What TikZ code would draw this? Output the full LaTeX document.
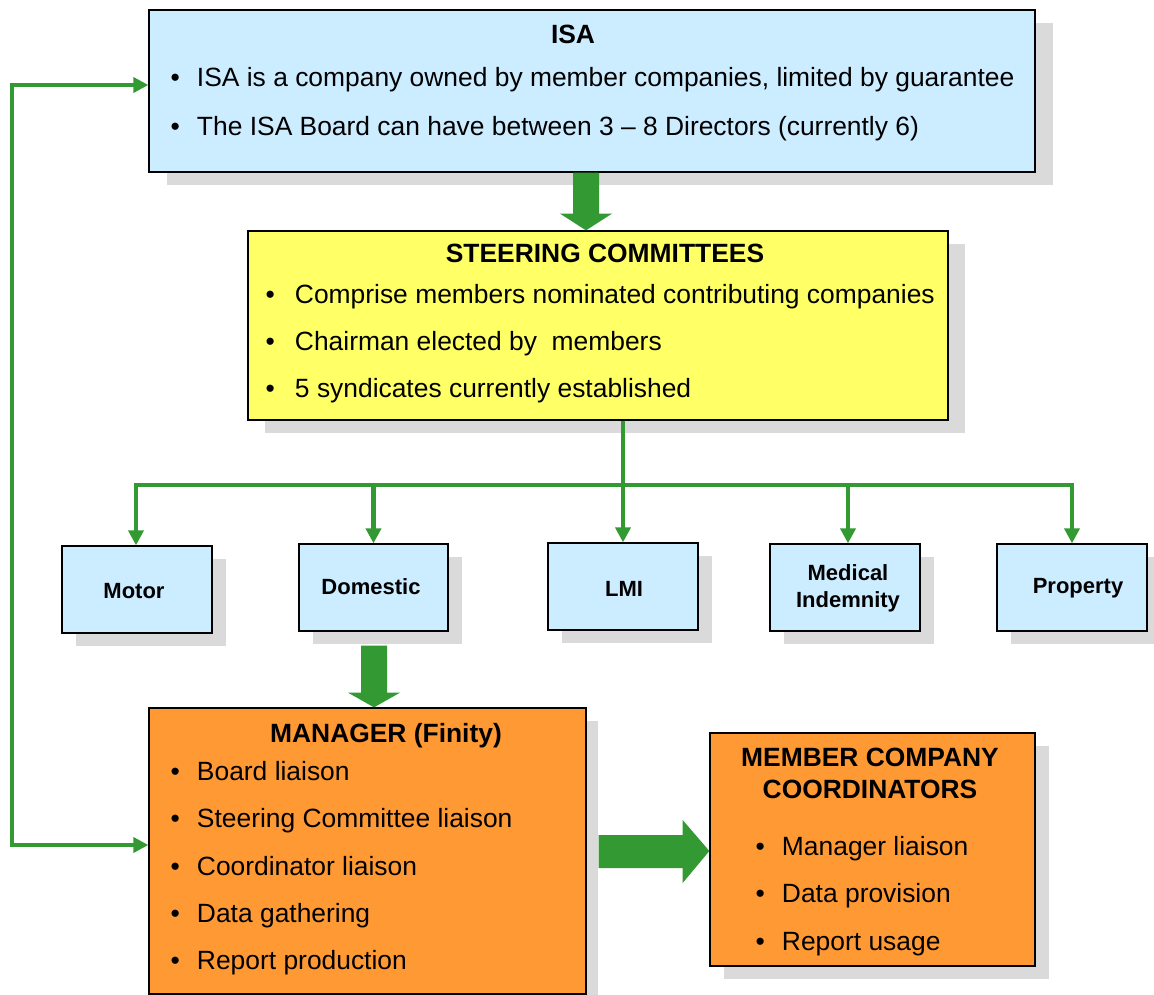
\documentclass[tikz,border=0pt]{standalone}
\usepackage{fontspec}
\setmainfont{Liberation Sans}
\usetikzlibrary{arrows.meta,calc,shadows}
\definecolor{lblue}{HTML}{CCECFF}
\definecolor{lyellow}{HTML}{FFFF66}
\definecolor{lorange}{HTML}{FF9933}
\definecolor{dgreen}{HTML}{339933}
\definecolor{shgray}{HTML}{DADADA}
\newcommand{\bul}[1][26.4pt]{\makebox[#1][l]{•}}
\begin{document}
\begin{tikzpicture}[x=1pt,y=-1pt,
  box/.style={draw=black, line width=1.3pt, inner sep=0pt,
    general shadow={fill=shgray, shadow xshift=#1, shadow yshift=-13pt}},
  box/.default=14pt,
  txt/.style={inner sep=0pt, anchor=base west, font=\fontsize{26.4}{30}\selectfont},
  ttl/.style={inner sep=0pt, anchor=base, font=\fontsize{26.4}{30}\selectfont\bfseries},
  sml/.style={inner sep=0pt, align=center, font=\fontsize{22}{27}\selectfont\bfseries},
  conn/.style={draw=dgreen, line width=4.6pt},
  tip/.style={-{Triangle[length=15pt,width=15pt]}},
  blk/.style={fill=dgreen, draw=none}]
\useasboundingbox (0,0) rectangle (1154,995);

% boxes
\node[box=18pt, fill=lblue, minimum width=886pt, minimum height=162pt] (isa) at (592,91) {};
\node[box=17pt, fill=lyellow, minimum width=700pt, minimum height=189pt] (steer) at (598,325.5) {};
\node[box, fill=lblue, minimum width=150pt, minimum height=87pt] (motor) at (137,589.5) {};
\node[box, fill=lblue, minimum width=149pt, minimum height=87pt] (dom) at (373.5,587.5) {};
\node[box, fill=lblue, minimum width=150pt, minimum height=87pt] (lmi) at (623,586.5) {};
\node[box, fill=lblue, minimum width=150pt, minimum height=87pt] (med) at (845,587.5) {};
\node[box, fill=lblue, minimum width=150pt, minimum height=87pt] (prop) at (1072,587.5) {};
\node[box=12pt, fill=lorange, minimum width=437pt, minimum height=286pt] (mgr) at (367.5,851) {};
\node[box, fill=lorange, minimum width=325pt, minimum height=233pt] (mcc) at (872.5,849.5) {};

% ISA text
\node[ttl] (isat) at (573,44) {ISA};
\node[txt] (isa1) at (170.4,87) {\bul ISA is a company owned by member companies, limited by guarantee};
\node[txt] (isa2) at (170.4,136) {\bul The ISA Board can have between 3 -- 8 Directors (currently 6)};

% Steering text
\node[ttl] (stt) at (605,262) {STEERING COMMITTEES};
\node[txt] (st1) at (265.4,303) {\bul[29.4pt]Comprise members nominated contributing companies};
\node[txt] (st2) at (265.4,350) {\bul[29.4pt]Chairman elected by\ \ members};
\node[txt] (st3) at (265.4,397) {\bul[29.4pt]5 syndicates currently established};

% small boxes text
\node[sml] (motort) at (134,591) {Motor};
\node[sml] (domt) at (371,587) {Domestic};
\node[sml] (lmit) at (624,589) {LMI};
\node[sml] (medt) at (848,588.5) {Medical\\Indemnity};
\node[sml] (propt) at (1078,588) {Property};

% Manager text
\node[ttl] (mgrt) at (386,742) {MANAGER (Finity)};
\node[txt] (m1) at (170.4,780) {\bul Board liaison};
\node[txt] (m2) at (170.4,827) {\bul Steering Committee liaison};
\node[txt] (m3) at (170.4,875) {\bul Coordinator liaison};
\node[txt] (m4) at (170.4,922) {\bul Data gathering};
\node[txt] (m5) at (170.4,969) {\bul Report production};

% Member text
\node[ttl] (mcct1) at (870,766) {MEMBER COMPANY};
\node[ttl] (mcct2) at (870,798) {COORDINATORS};
\node[txt] (c1) at (755.4,855) {\bul Manager liaison};
\node[txt] (c2) at (755.4,902) {\bul Data provision};
\node[txt] (c3) at (755.4,950) {\bul Report usage};

% block arrows
\fill[blk] ($(isa.south)+(-19,0)$) -- ($(isa.south)+(7,0)$) -- ($(isa.south)+(7,41)$)
  -- ($(isa.south)+(20,41)$) -- ($(steer.north)+(-12,0)$) -- ($(isa.south)+(-32,41)$)
  -- ($(isa.south)+(-19,41)$) -- cycle;
\fill[blk] ($(dom.south)+(-12.5,14)$) -- ($(dom.south)+(13.5,14)$) -- ($(dom.south)+(13.5,61)$)
  -- ($(dom.south)+(26.5,61)$) -- ($(mgr.north)+(6.5,0)$) -- ($(dom.south)+(-25.5,61)$)
  -- ($(dom.south)+(-12.5,61)$) -- cycle;
\fill[blk] ($(mgr.east)+(12,-16)$) -- ($(mgr.east)+(96,-16)$) -- ($(mgr.east)+(96,-31)$)
  -- ($(mcc.west)+(0,1.5)$) -- ($(mgr.east)+(96,32)$) -- ($(mgr.east)+(96,17)$)
  -- ($(mgr.east)+(12,17)$) -- cycle;

% connectors
\coordinate (lt) at (12,85);
\coordinate (lb) at (12,845);
\coordinate (bus) at (0,485);
\draw[conn, {Triangle[length=15pt,width=15pt]}-{Triangle[length=15pt,width=15pt]}]
  ($(isa.west)+(0,-6)$) -- (lt) -- (lb) -- ($(mgr.west)+(0,-6)$);
\draw[conn, tip] (steer.south -| lmi.north) -- (lmi.north);
\draw[conn, tip] (lmi.north |- bus) -| ($(motor.north)+(-1,0)$);
\draw[conn, tip] (lmi.north |- bus) -| (dom.north);
\draw[conn, tip] (lmi.north |- bus) -| ($(med.north)+(3,0)$);
\draw[conn, tip] (lmi.north |- bus) -| (prop.north);
\end{tikzpicture}
\end{document}
